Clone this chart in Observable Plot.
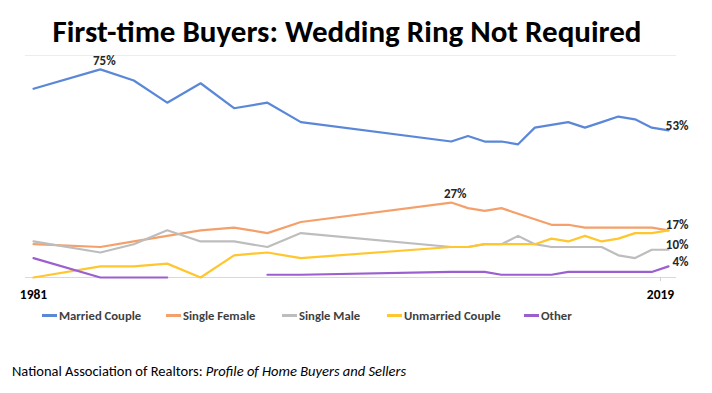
<!DOCTYPE html>
<html>
<head>
<meta charset="utf-8">
<script src="https://cdn.jsdelivr.net/npm/d3@7"></script>
<script src="https://cdn.jsdelivr.net/npm/@observablehq/plot@0.6"></script>
<style>
  html, body { margin: 0; padding: 0; background: #fff; }
  #wrap { position: relative; width: 712px; height: 393px; background: #fff; overflow: hidden; font-family: Carlito, "Open Sans", sans-serif; }
  #title { position: absolute; left: -9px; top: 11px; width: 712px; text-align: center; font-weight: 700; font-size: 31px; line-height: 40px; color: #000; white-space: nowrap; }
  #chart { position: absolute; left: 0; top: 50px; }
  #legend { position: absolute; left: 42px; top: 308px; display: flex; font-weight: 700; font-size: 12.7px; color: #404040; }
  .item { display: flex; align-items: center; white-space: nowrap; }
  .sw { width: 15px; height: 2.5px; margin-right: 2px; }
  #caption { position: absolute; left: 12px; top: 362px; font-size: 14.5px; color: #000; white-space: nowrap; }
</style>
</head>
<body>
<div id="wrap">
  <div id="title">First-time Buyers: Wedding Ring Not Required</div>
  <div id="chart"></div>
  <div id="legend"></div>
  <div id="caption">National Association of Realtors: <i>Profile of Home Buyers and Sellers</i></div>
</div>
<script>
const years = [1981, 1985, 1987, 1989, 1991, 1993, 1995, 1997, 2006, 2007, 2008, 2009, 2010, 2011, 2012, 2013, 2014, 2015, 2016, 2017, 2018, 2019];
const seriesNames = ["Married Couple", "Single Female", "Single Male", "Unmarried Couple", "Other"];
const marriedCouple   = [68, 75, 71, 63, 70, 61, 63, 56, 49, 51, 49, 49, 48, 54, 55, 56, 54, 56, 58, 57, 54, 53];
const singleFemale    = [12, 11, 13, 15, 17, 18, 16, 20, 27, 25, 24, 25, 23, 21, 19, 19, 18, 18, 18, 18, 18, 17];
const singleMale      = [13, 9, 12, 17, 13, 13, 11, 16, 11, 11, 12, 12, 15, 12, 11, 11, 11, 11, 8, 7, 10, 10];
const unmarriedCouple = [0, 4, 4, 5, 0, 8, 9, 7, 11, 11, 12, 12, 12, 12, 14, 13, 15, 13, 14, 16, 16, 17];
const other           = [7, 0, 0, 0, null, null, 1, 1, 2, 2, 2, 1, 1, 1, 1, 2, 2, 2, 2, 2, 2, 4];
const xTickLabels = [1981, 2019];
const peakLabels = [["Married Couple", 1985], ["Single Female", 2006]];
const endLabelSeries = ["Married Couple", "Single Female", "Single Male", "Other"];

const colors = ["#5a87d8", "#f4a06b", "#bdbdbd", "#ffc62e", "#9b5fcf"];
const valuesBySeries = [marriedCouple, singleFemale, singleMale, unmarriedCouple, other];

const rows = [];
seriesNames.forEach((s, i) => {
  years.forEach((y, j) => rows.push({series: s, year: y, value: valuesBySeries[i][j]}));
});
const find = (s, y) => rows.find(r => r.series === s && r.year === y);
const peaks = peakLabels.map(([s, y]) => find(s, y));
const ends = endLabelSeries.map(s => find(s, years[years.length - 1]));

const labelStyle = {fontWeight: 700, fontSize: 13, fill: "#262626", fontFamily: "Carlito, 'Open Sans', sans-serif"};

const chart = Plot.plot({
  width: 712,
  height: 260,
  marginLeft: 25,
  marginRight: 36,
  marginTop: 5,
  marginBottom: 33,
  style: {fontFamily: "Carlito, 'Open Sans', sans-serif", background: "transparent"},
  x: {type: "linear", domain: [1980.52, 2019.48], label: null},
  y: {domain: [0, 80], axis: null},
  color: {domain: seriesNames, range: colors},
  marks: [
    Plot.ruleY([80], {stroke: "#ececec", strokeWidth: 1}),
    Plot.ruleY([0], {stroke: "#d9d9d9", strokeWidth: 1}),
    Plot.lineY(rows, {x: "year", y: "value", z: "series", stroke: "series", strokeWidth: 2.2, strokeLinejoin: "round"}),
    Plot.axisX([xTickLabels[0]], {label: null, tickSize: 0, tickPadding: 12, tickFormat: d => String(d), fontWeight: 700, fontSize: 13.5, fill: "#000"}),
    Plot.axisX([xTickLabels[1]], {label: null, tickSize: 4, tickPadding: 8, dx: -8, tickFormat: d => String(d), fontWeight: 700, fontSize: 13.5, stroke: "#cfcfcf", fill: "#000"}),
    Plot.text(peaks, {x: "year", y: "value", text: d => d.value + "%", dx: 4, dy: -9, ...labelStyle}),
    Plot.text(ends, {x: "year", y: "value", text: d => d.value + "%", textAnchor: "end", dx: 20, dy: -5, ...labelStyle})
  ]
});
document.getElementById("chart").appendChild(chart);

const itemWidths = [124, 116, 105, 137, 60];
const legend = document.getElementById("legend");
seriesNames.forEach((s, i) => {
  const it = document.createElement("div");
  it.className = "item";
  it.style.width = itemWidths[i] + "px";
  const sw = document.createElement("span");
  sw.className = "sw";
  sw.style.background = colors[i];
  const tx = document.createElement("span");
  tx.textContent = s;
  it.appendChild(sw);
  it.appendChild(tx);
  legend.appendChild(it);
});
</script>
</body>
</html>
